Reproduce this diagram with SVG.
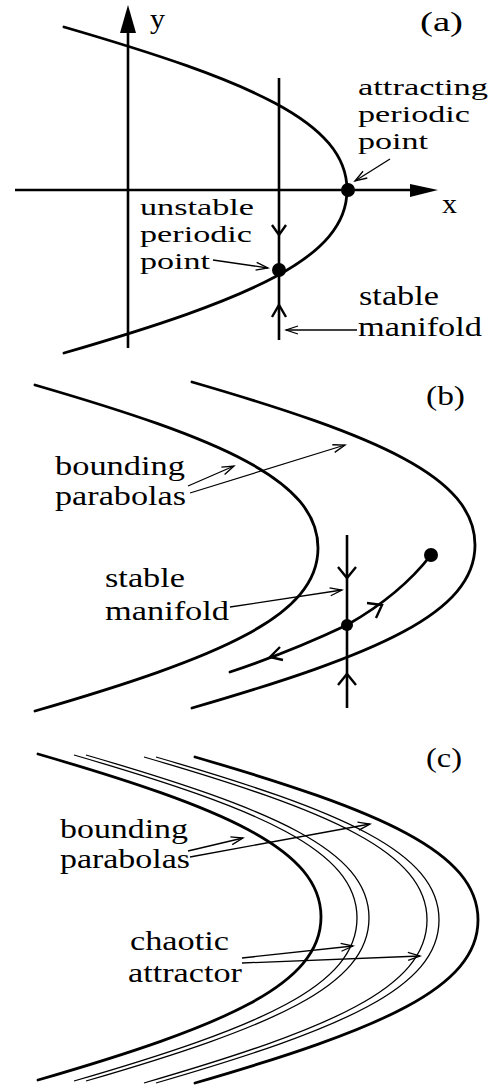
<svg xmlns="http://www.w3.org/2000/svg" width="497" height="1085" viewBox="0 0 497 1085">
<style>
  .thick { fill: none; stroke: #000; stroke-width: 2.8; stroke-linecap: round; }
  .thin { fill: none; stroke: #000; stroke-width: 1.3; }
  .axis { fill: none; stroke: #000; stroke-width: 2.6; }
  .chev { fill: none; stroke: #000; stroke-width: 2.4; stroke-linejoin: miter; }
  .ptr { fill: none; stroke: #000; stroke-width: 1.3; marker-end: url(#ptr); }
  .dot { fill: #000; }
  text { font-family: "Liberation Serif", "Times New Roman", serif; font-size: 28px; fill: #000; }
  .tight { font-size: 24px; }
</style>
<defs>
  <marker id="ptr" viewBox="-14 -6 16 12" refX="0" refY="0" markerWidth="16" markerHeight="12" markerUnits="userSpaceOnUse" orient="auto">
    <path d="M-12,-4 L0,0 L-12,4" fill="none" stroke="#000" stroke-width="1.3"/>
  </marker>
</defs>

<!-- Panel (a) -->
<g id="panel-a">
  <g id="a-axes">
    <line class="axis" x1="128" y1="30" x2="128" y2="348"/>
    <polygon points="128,5 136,33 120,33" fill="#000"/>
    <line class="axis" x1="15" y1="190" x2="414" y2="190"/>
    <polygon points="438,190 410,184 410,197" fill="#000"/>
    <text x="150" y="28" textLength="15" lengthAdjust="spacingAndGlyphs">y</text>
    <text x="442" y="213" textLength="15" lengthAdjust="spacingAndGlyphs">x</text>
  </g>
  <text id="label-a" x="420" y="31" textLength="43" lengthAdjust="spacingAndGlyphs">(a)</text>
  <path id="a-parabola" class="thick" d="M64,27 C250,81 347,122 347,190 C347,258 250,299 64,353"/>
  <g id="a-manifold">
    <line class="axis" x1="279" y1="78" x2="279" y2="340"/>
    <path class="chev" d="M272,225 L279,235 L286,225"/>
    <path class="chev" d="M272,317 L279,305 L286,317"/>
  </g>
  <circle id="a-attracting-point" class="dot" cx="348" cy="190" r="7"/>
  <circle id="a-unstable-point" class="dot" cx="279" cy="270" r="7"/>
  <g id="a-label-attracting">
    <text class="tight" x="358" y="95" textLength="130" lengthAdjust="spacingAndGlyphs">attracting</text>
    <text class="tight" x="358" y="122" textLength="112" lengthAdjust="spacingAndGlyphs">periodic</text>
    <text class="tight" x="358" y="149" textLength="70" lengthAdjust="spacingAndGlyphs">point</text>
  </g>
  <g id="a-label-unstable">
    <text class="tight" x="140" y="215" textLength="114" lengthAdjust="spacingAndGlyphs">unstable</text>
    <text class="tight" x="140" y="242" textLength="112" lengthAdjust="spacingAndGlyphs">periodic</text>
    <text class="tight" x="140" y="269" textLength="70" lengthAdjust="spacingAndGlyphs">point</text>
  </g>
  <g id="a-label-stable">
    <text x="359" y="305" textLength="80" lengthAdjust="spacingAndGlyphs">stable</text>
    <text x="358" y="336" textLength="124" lengthAdjust="spacingAndGlyphs">manifold</text>
  </g>
</g>

<!-- Panel (b) -->
<g id="panel-b">
  <text id="label-b" x="426" y="405" textLength="39" lengthAdjust="spacingAndGlyphs">(b)</text>
  <path id="b-parabola-left" class="thick" d="M35,385 C221,439 318,480 318,548 C318,616 221,657 35,711"/>
  <path id="b-parabola-right" class="thick" d="M192,382 C378,436 475,477 475,545 C475,613 378,654 192,708"/>
  <g id="b-manifold">
    <line class="axis" x1="347" y1="535" x2="347" y2="708"/>
    <path class="chev" d="M338,567 L347,578 L356,567"/>
    <path class="chev" d="M338,685 L347,674 L356,685"/>
  </g>
  <g id="b-unstable-curve">
    <path class="thick" d="M431,555 Q400,595 347,625 Q290,652 230,672"/>
    <path class="chev" d="M367,603 L382,605 L376,618"/>
    <path class="chev" d="M280,647 L270,657 L283,660"/>
  </g>
  <circle id="b-point" class="dot" cx="347" cy="625" r="6"/>
  <circle id="b-start" class="dot" cx="431" cy="555" r="7"/>
  <g id="b-label-bounding">
    <text x="55" y="475" textLength="130" lengthAdjust="spacingAndGlyphs">bounding</text>
    <text x="55" y="505" textLength="131" lengthAdjust="spacingAndGlyphs">parabolas</text>
  </g>
  <g id="b-label-stable">
    <text x="105" y="587" textLength="80" lengthAdjust="spacingAndGlyphs">stable</text>
    <text x="105" y="620" textLength="124" lengthAdjust="spacingAndGlyphs">manifold</text>
  </g>
</g>

<!-- Panel (c) -->
<g id="panel-c">
  <text id="label-c" x="426" y="767" textLength="36" lengthAdjust="spacingAndGlyphs">(c)</text>
  <path id="c-bound-left" class="thick" d="M38,754 C224,808 321,849 321,917 C321,985 224,1026 38,1080"/>
  <path id="c-attr-a1" class="thin" d="M74,755 C260,809 357,850 357,918 C357,986 260,1027 74,1081"/>
  <path id="c-attr-a2" class="thin" d="M86,755 C272,809 369,850 369,918 C369,986 272,1027 86,1081"/>
  <path id="c-attr-b1" class="thin" d="M144,757 C330,811 427,852 427,920 C427,988 330,1029 144,1083"/>
  <path id="c-attr-b2" class="thin" d="M156,757 C342,811 439,852 439,920 C439,988 342,1029 156,1083"/>
  <path id="c-bound-right" class="thick" d="M195,757 C381,811 478,852 478,920 C478,988 381,1029 195,1083"/>
  <g id="c-label-bounding">
    <text x="60" y="838" textLength="128" lengthAdjust="spacingAndGlyphs">bounding</text>
    <text x="60" y="868" textLength="130" lengthAdjust="spacingAndGlyphs">parabolas</text>
  </g>
  <g id="c-label-chaotic">
    <text x="130" y="950" textLength="99" lengthAdjust="spacingAndGlyphs">chaotic</text>
    <text x="128" y="982" textLength="114" lengthAdjust="spacingAndGlyphs">attractor</text>
  </g>
</g>

<!-- Connectors (label pointers) -->
<g id="connectors">
  <line class="ptr" x1="390" y1="159" x2="355" y2="181"/>
  <line class="ptr" x1="213" y1="260" x2="268" y2="268"/>
  <line class="ptr" x1="357" y1="330" x2="286" y2="330"/>
  <line class="ptr" x1="188" y1="486" x2="234" y2="466"/>
  <line class="ptr" x1="190" y1="493" x2="345" y2="445"/>
  <line class="ptr" x1="230" y1="607" x2="342" y2="590"/>
  <line class="ptr" x1="188" y1="851" x2="243" y2="838"/>
  <line class="ptr" x1="190" y1="857" x2="370" y2="824"/>
  <line class="ptr" x1="242" y1="958" x2="353" y2="946"/>
  <line class="ptr" x1="242" y1="963" x2="420" y2="956"/>
</g>
</svg>
